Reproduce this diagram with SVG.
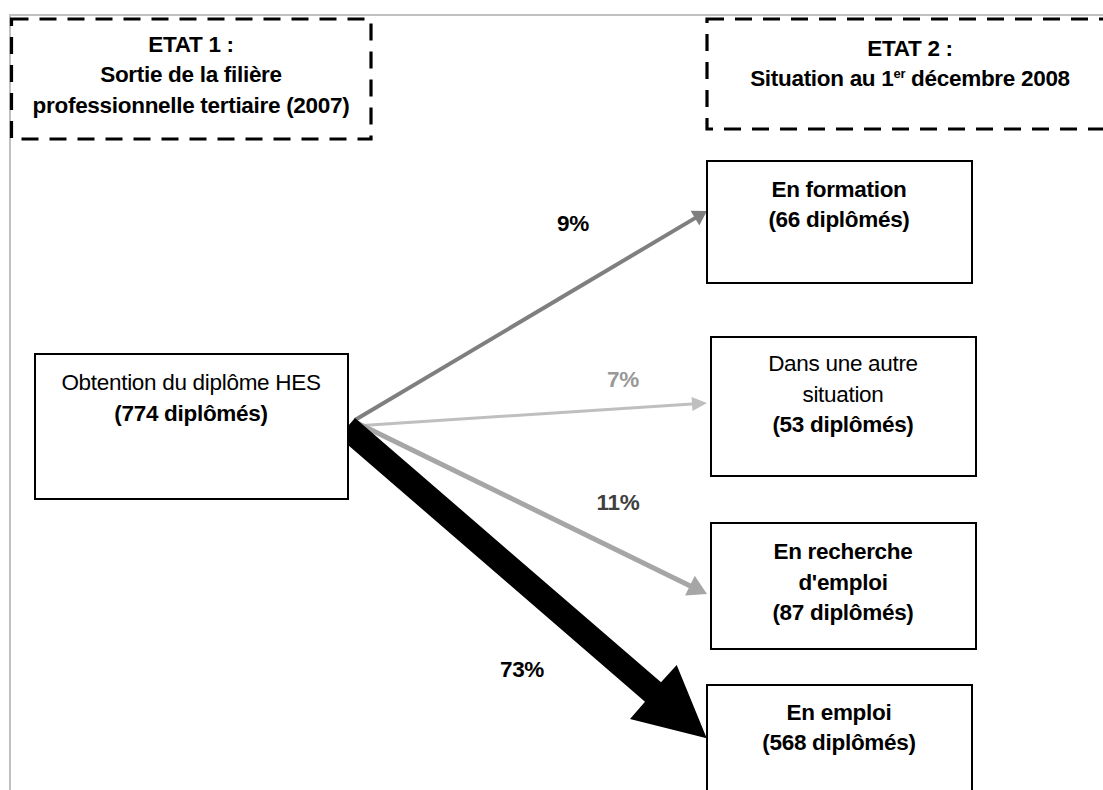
<svg xmlns="http://www.w3.org/2000/svg" width="1103" height="790" viewBox="0 0 1103 790">
<style>
  .t { font-family: "Liberation Sans", Arial, sans-serif; font-size: 22.5px; letter-spacing: -0.3px; text-anchor: middle; fill: #000; }
  .b { font-weight: bold; }
  .node { fill: #fff; stroke: #000; stroke-width: 2; }
  .hdr { fill: none; stroke: #000; stroke-width: 3.2; stroke-dasharray: 17 11; }
  .frame { fill: none; stroke: #c0c0c0; stroke-width: 2; }
</style>
<defs>
  <marker id="m1" markerUnits="userSpaceOnUse" markerWidth="14" markerHeight="17" refX="4" refY="8.5" orient="auto" overflow="visible">
    <path d="M0,0 L14,8.5 L0,17 z" fill="#7f7f7f"/>
  </marker>
  <marker id="m2" markerUnits="userSpaceOnUse" markerWidth="15" markerHeight="14" refX="4" refY="7" orient="auto" overflow="visible">
    <path d="M0,0 L15,7 L0,14 z" fill="#bfbfbf"/>
  </marker>
  <marker id="m3" markerUnits="userSpaceOnUse" markerWidth="19" markerHeight="22" refX="5" refY="11" orient="auto" overflow="visible">
    <path d="M0,0 L19,11 L0,22 z" fill="#a6a6a6"/>
  </marker>
</defs>
<rect width="1103" height="790" fill="#fff"/>
<path class="frame" d="M10,790 L10,15 L1103,15"/>

<g id="etat1">
  <rect class="hdr" x="11.5" y="19" width="359.5" height="120"/>
  <text class="t b" x="191" y="52">ETAT 1 :</text>
  <text class="t b" x="191" y="82">Sortie de la filière</text>
  <text class="t b" x="191" y="113">professionnelle tertiaire (2007)</text>
</g>
<g id="etat2">
  <rect class="hdr" x="707" y="19" width="410" height="110"/>
  <text class="t b" x="910" y="56">ETAT 2 :</text>
  <text class="t b" x="910" y="86">Situation au 1<tspan dy="-8" font-size="13px">er</tspan><tspan dy="8"> décembre 2008</tspan></text>
</g>

<g id="connectors">
  <line x1="355" y1="420" x2="698.4" y2="216.1" stroke="#7f7f7f" stroke-width="4" marker-end="url(#m1)"/>
  <line x1="355" y1="426" x2="696" y2="403.7" stroke="#bfbfbf" stroke-width="3" marker-end="url(#m2)"/>
  <line x1="355" y1="422" x2="694.4" y2="587.9" stroke="#a6a6a6" stroke-width="5" marker-end="url(#m3)"/>
  <polygon points="355,418 661,682.3 676.7,665 706.7,738.3 630,719 645,701.7 348,445 348,426" fill="#000"/>
  <text class="t b" x="573" y="231">9%</text>
  <text class="t b" x="623" y="387" style="fill:#999999">7%</text>
  <text class="t b" x="618" y="510" style="fill:#404040">11%</text>
  <text class="t b" x="522" y="677">73%</text>
</g>

<g id="obtention">
  <rect class="node" x="35" y="354" width="313" height="145"/>
  <text class="t" x="191" y="390">Obtention du diplôme HES</text>
  <text class="t b" x="191" y="421">(774 diplômés)</text>
</g>
<g id="formation">
  <rect class="node" x="707" y="161" width="265" height="122"/>
  <text class="t b" x="839" y="197">En formation</text>
  <text class="t b" x="839" y="227">(66 diplômés)</text>
</g>
<g id="autre">
  <rect class="node" x="711" y="337" width="265" height="139"/>
  <text class="t" x="843" y="371">Dans une autre</text>
  <text class="t" x="843" y="402">situation</text>
  <text class="t b" x="843" y="432">(53 diplômés)</text>
</g>
<g id="recherche">
  <rect class="node" x="711" y="523" width="265" height="126"/>
  <text class="t b" x="843" y="559">En recherche</text>
  <text class="t b" x="843" y="590">d'emploi</text>
  <text class="t b" x="843" y="620">(87 diplômés)</text>
</g>
<g id="emploi">
  <rect class="node" x="707" y="685" width="265" height="120"/>
  <text class="t b" x="839" y="720">En emploi</text>
  <text class="t b" x="839" y="750">(568 diplômés)</text>
</g>
</svg>
